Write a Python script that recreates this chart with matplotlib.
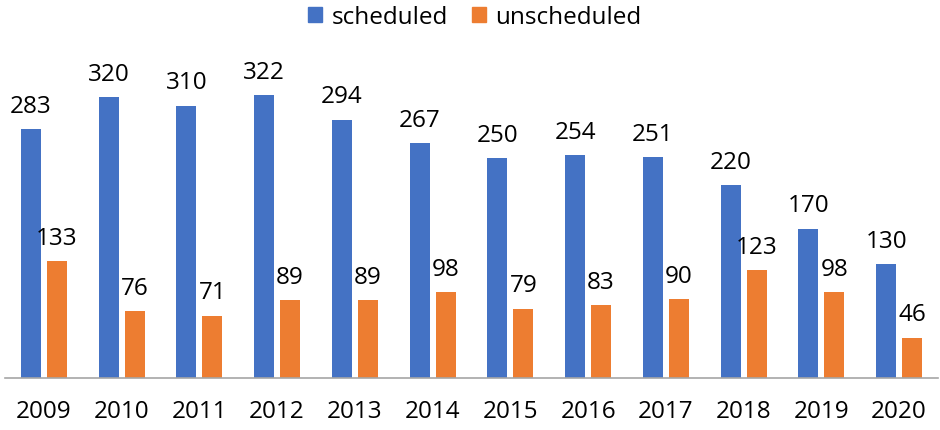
import numpy as np
import matplotlib
matplotlib.use("Agg")
import matplotlib.pyplot as plt
from matplotlib.patches import Patch

years = ["2009", "2010", "2011", "2012", "2013", "2014",
         "2015", "2016", "2017", "2018", "2019", "2020"]
scheduled = [283, 320, 310, 322, 294, 267, 250, 254, 251, 220, 170, 130]
unscheduled = [133, 76, 71, 89, 89, 98, 79, 83, 90, 123, 98, 46]

BLUE = "#4472C4"
ORANGE = "#ED7D31"

plt.rcParams['font.family'] = ['Open Sans', 'DejaVu Sans']

fig = plt.figure(figsize=(9.4, 4.31), dpi=100)
W, H = 940, 431
# axes placed in pixel terms: baseline at y=379, top at y=40
ax = fig.add_axes([5 / W, 52 / H, 933 / W, 339 / H])

x = np.arange(len(years))
w = 0.256
off = 0.167
b1 = ax.bar(x - off, scheduled, w, color=BLUE)
b2 = ax.bar(x + off, unscheduled, w, color=ORANGE)

for bars, vals in ((b1, scheduled), (b2, unscheduled)):
    for r, v in zip(bars, vals):
        ax.annotate(str(v), (r.get_x() + r.get_width() / 2, v),
                    xytext=(0, 8), textcoords='offset points',
                    ha='center', va='bottom', fontsize=17.5, color='black')

ax.set_xlim(-0.5, len(years) - 0.5)
ax.set_ylim(0, 339 / 0.879)
ax.set_xticks(x)
ax.set_xticklabels(years, fontsize=17.5)
ax.tick_params(axis='x', length=0, pad=15)
ax.set_yticks([])
for s in ('top', 'right', 'left'):
    ax.spines[s].set_visible(False)
ax.spines['bottom'].set_color('#A6A6A6')
ax.spines['bottom'].set_linewidth(1.2)

handles = [Patch(color=BLUE, label='scheduled'),
           Patch(color=ORANGE, label='unscheduled')]
fig.legend(handles=handles, loc='center', bbox_to_anchor=(475 / W, 1 - 18 / H),
           ncol=2, frameon=False, fontsize=17.5, handlelength=0.55,
           handleheight=0.55, handletextpad=0.4, columnspacing=1.0)

fig.savefig("out.png", dpi=100)
